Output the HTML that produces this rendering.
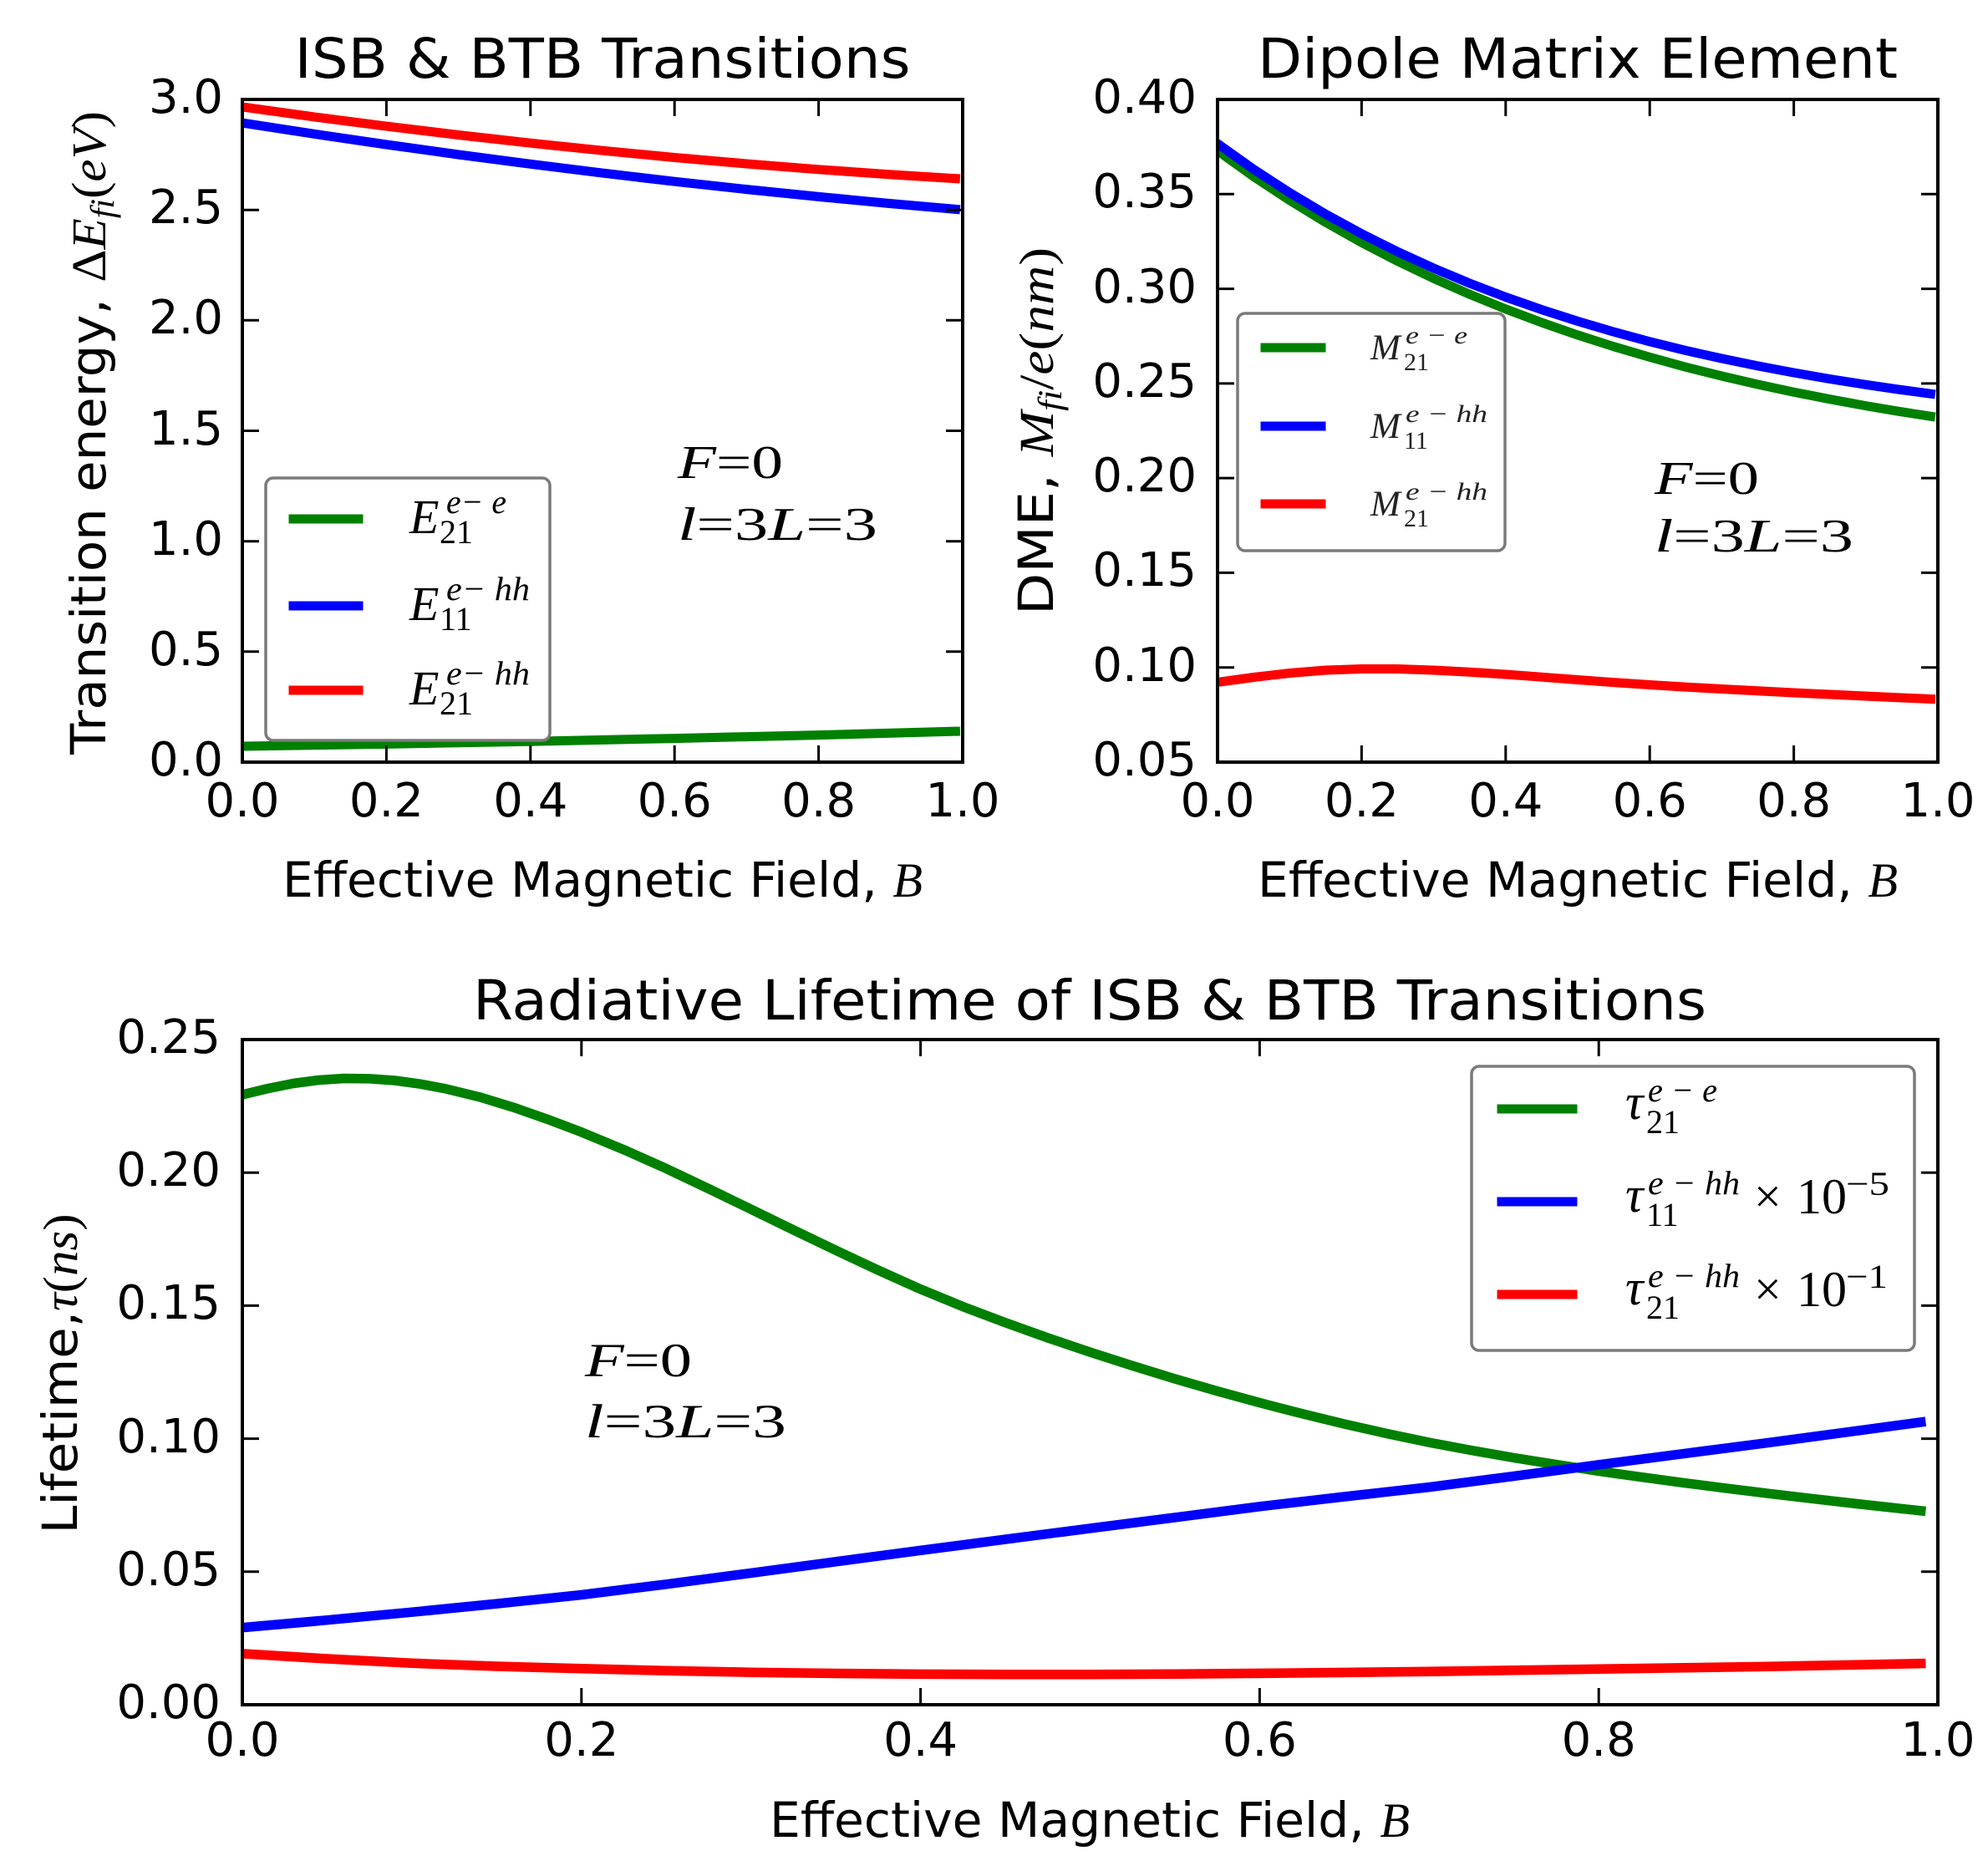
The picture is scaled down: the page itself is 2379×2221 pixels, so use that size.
<!DOCTYPE html>
<html>
<head>
<meta charset="utf-8">
<style>
  html, body { margin: 0; padding: 0; background: #fff; }
  svg { display: block; }
  .sans { font-family: "DejaVu Sans", "Liberation Sans", sans-serif; }
  .ser { font-family: "Liberation Serif", "DejaVu Serif", serif; }
  .it { font-style: italic; }
</style>
</head>
<body>
<svg width="2379" height="2221" viewBox="0 0 2379 2221" xmlns="http://www.w3.org/2000/svg">
  <rect x="0" y="0" width="2379" height="2221" fill="#fff"/>
  <defs>
    <clipPath id="c1"><rect x="290" y="119" width="862" height="793"/></clipPath>
    <clipPath id="c2"><rect x="1457" y="119" width="862" height="793"/></clipPath>
    <clipPath id="c3"><rect x="290" y="1244" width="2029" height="796"/></clipPath>
  </defs>

  <!-- ================= TOP-LEFT PLOT ================= -->
  <text class="sans" x="721" y="93" text-anchor="middle" font-size="66" textLength="737" lengthAdjust="spacingAndGlyphs">ISB &amp; BTB Transitions</text>

  <g clip-path="url(#c1)" fill="none" stroke-width="11" stroke-linecap="square" stroke-linejoin="round">
    <polyline stroke="#ff0000" points="290,128 376.2,139.9 462.4,151.1 548.6,161.5 634.8,171.2 721,180.2 807.2,188.5 893.4,196 979.6,202.8 1065.8,208.9 1143.4,213.7"/>
    <polyline stroke="#0000ff" points="290,147 376.2,160.3 462.4,173 548.6,185 634.8,196.3 721,207.1 807.2,217.2 893.4,226.6 979.6,235.4 1065.8,243.6 1143.4,250.4"/>
    <polyline stroke="#008000" points="290,893 462.4,890.4 634.8,887.2 807.2,883.6 979.6,879.6 1143.4,875.2"/>
  </g>

  <!-- legend top-left -->
  <rect x="318" y="572" width="340" height="314" rx="9" ry="9" fill="#fff" stroke="#7a7a7a" stroke-width="3.5"/>
  <g stroke-width="11" stroke-linecap="square">
    <line x1="351" y1="621" x2="429" y2="621" stroke="#008000"/>
    <line x1="351" y1="725" x2="429" y2="725" stroke="#0000ff"/>
    <line x1="351" y1="826" x2="429" y2="826" stroke="#ff0000"/>
  </g>
  <g class="ser" fill="#000">
    <text x="490" y="638" font-size="58" class="it">E</text>
    <text x="526" y="650" font-size="40">21</text>
    <text x="534" y="614" font-size="40" class="it" textLength="72" lengthAdjust="spacingAndGlyphs">e− e</text>

    <text x="490" y="742" font-size="58" class="it">E</text>
    <text x="526" y="754" font-size="40">11</text>
    <text x="534" y="718" font-size="40" class="it" textLength="100" lengthAdjust="spacingAndGlyphs">e− hh</text>

    <text x="490" y="843" font-size="58" class="it">E</text>
    <text x="526" y="855" font-size="40">21</text>
    <text x="534" y="819" font-size="40" class="it" textLength="100" lengthAdjust="spacingAndGlyphs">e− hh</text>
  </g>

  <!-- annotation top-left -->
  <g class="ser" fill="#000" font-size="56">
    <text x="811" y="572" textLength="126" lengthAdjust="spacingAndGlyphs"><tspan class="it">F</tspan>=0</text>
    <text x="811" y="646" textLength="239" lengthAdjust="spacingAndGlyphs"><tspan class="it">l</tspan>=3<tspan class="it">L</tspan>=3</text>
  </g>

  <!-- axes frame & ticks top-left -->
  <rect x="290" y="119" width="862" height="793" fill="none" stroke="#000" stroke-width="4"/>
  <path fill="none" stroke="#000" stroke-width="3" d="
    M462.4,912 v-20 M634.8,912 v-20 M807.2,912 v-20 M979.6,912 v-20
    M462.4,119 v20 M634.8,119 v20 M807.2,119 v20 M979.6,119 v20
    M290,779.8 h20 M290,647.7 h20 M290,515.5 h20 M290,383.3 h20 M290,251.2 h20
    M1152,779.8 h-20 M1152,647.7 h-20 M1152,515.5 h-20 M1152,383.3 h-20 M1152,251.2 h-20"/>
  <g class="sans" font-size="56" fill="#000" text-anchor="end">
    <text x="267" y="928">0.0</text>
    <text x="267" y="796">0.5</text>
    <text x="267" y="664">1.0</text>
    <text x="267" y="532">1.5</text>
    <text x="267" y="399">2.0</text>
    <text x="267" y="267">2.5</text>
    <text x="267" y="135">3.0</text>
  </g>
  <g class="sans" font-size="56" fill="#000" text-anchor="middle">
    <text x="290" y="977">0.0</text>
    <text x="462.4" y="977">0.2</text>
    <text x="634.8" y="977">0.4</text>
    <text x="807.2" y="977">0.6</text>
    <text x="979.6" y="977">0.8</text>
    <text x="1152" y="977">1.0</text>
  </g>
  <text x="721" y="1073" text-anchor="middle" font-size="58" textLength="766" lengthAdjust="spacingAndGlyphs"><tspan class="sans">Effective Magnetic Field, </tspan><tspan class="ser it">B</tspan></text>
  <text transform="translate(126,518) rotate(-90)" text-anchor="middle" font-size="58" textLength="770" lengthAdjust="spacingAndGlyphs"><tspan class="sans">Transition energy, </tspan><tspan class="ser">Δ</tspan><tspan class="ser it">E</tspan><tspan class="ser it" font-size="40" dy="10">fi</tspan><tspan class="ser" dy="-10">(</tspan><tspan class="ser it">eV</tspan><tspan class="ser">)</tspan></text>

  <!-- ================= TOP-RIGHT PLOT ================= -->
  <text class="sans" x="1888" y="93" text-anchor="middle" font-size="66" textLength="766" lengthAdjust="spacingAndGlyphs">Dipole Matrix Element</text>

  <g clip-path="url(#c2)" fill="none" stroke-width="11" stroke-linecap="square" stroke-linejoin="round">
    <polyline stroke="#008000" points="1457,180.4 1500.1,211.3 1543.2,239.7 1586.3,266 1629.4,290.2 1672.5,312.6 1715.6,333.2 1758.7,352.2 1801.8,369.8 1845,386 1888,400.9 1931,414.7 1974.2,427.4 2017,439.2 2060.4,450 2103.5,460 2146.6,469.2 2189.7,477.7 2232.8,485.6 2271.6,492.2 2310.4,498.2"/>
    <polyline stroke="#0000ff" points="1457,171.8 1500.1,202.5 1543.2,230.5 1586.3,256.2 1629.4,279.7 1672.5,301.2 1715.6,320.9 1758.7,339 1801.8,355.5 1845,370.6 1888,384.4 1931,397.1 1974.2,408.8 2017,419.4 2060.4,429 2103.5,437.9 2146.6,446 2189.7,453.5 2232.8,460.3 2271.6,466 2310.4,471.2"/>
    <polyline stroke="#ff0000" points="1457,816.4 1500.1,810.5 1543.2,805.5 1586.3,802 1629.4,800.5 1672.5,800.5 1715.6,802 1758.7,804.3 1801.8,807 1845,810.2 1888,813.5 1931,816.6 1974.2,819.5 2017,822.1 2060.4,824.5 2103.5,826.8 2146.6,829 2189.7,831 2232.8,833 2310.4,836.5"/>
  </g>

  <!-- legend top-right -->
  <rect x="1481" y="375" width="320" height="284" rx="9" ry="9" fill="#fff" stroke="#7a7a7a" stroke-width="3.5"/>
  <g stroke-width="11" stroke-linecap="square">
    <line x1="1514" y1="416" x2="1581" y2="416" stroke="#008000"/>
    <line x1="1514" y1="510" x2="1581" y2="510" stroke="#0000ff"/>
    <line x1="1514" y1="603" x2="1581" y2="603" stroke="#ff0000"/>
  </g>
  <g class="ser" fill="#222">
    <text x="1640" y="430" font-size="43" class="it">M</text>
    <text x="1680" y="443" font-size="30">21</text>
    <text x="1682" y="411" font-size="30" class="it" textLength="74" lengthAdjust="spacingAndGlyphs">e − e</text>

    <text x="1640" y="524" font-size="43" class="it">M</text>
    <text x="1680" y="537" font-size="30">11</text>
    <text x="1682" y="505" font-size="30" class="it" textLength="98" lengthAdjust="spacingAndGlyphs">e − hh</text>

    <text x="1640" y="617" font-size="43" class="it">M</text>
    <text x="1680" y="630" font-size="30">21</text>
    <text x="1682" y="598" font-size="30" class="it" textLength="98" lengthAdjust="spacingAndGlyphs">e − hh</text>
  </g>

  <g class="ser" fill="#000" font-size="56">
    <text x="1980" y="591" textLength="125" lengthAdjust="spacingAndGlyphs"><tspan class="it">F</tspan>=0</text>
    <text x="1980" y="660" textLength="238" lengthAdjust="spacingAndGlyphs"><tspan class="it">l</tspan>=3<tspan class="it">L</tspan>=3</text>
  </g>

  <rect x="1457" y="119" width="862" height="793" fill="none" stroke="#000" stroke-width="4"/>
  <path fill="none" stroke="#000" stroke-width="3" d="
    M1629.4,912 v-20 M1801.8,912 v-20 M1974.2,912 v-20 M2146.6,912 v-20
    M1629.4,119 v20 M1801.8,119 v20 M1974.2,119 v20 M2146.6,119 v20
    M1457,798.7 h20 M1457,685.4 h20 M1457,572.1 h20 M1457,458.9 h20 M1457,345.6 h20 M1457,232.3 h20
    M2319,798.7 h-20 M2319,685.4 h-20 M2319,572.1 h-20 M2319,458.9 h-20 M2319,345.6 h-20 M2319,232.3 h-20"/>
  <g class="sans" font-size="56" fill="#000" text-anchor="end">
    <text x="1432" y="928">0.05</text>
    <text x="1432" y="815">0.10</text>
    <text x="1432" y="701">0.15</text>
    <text x="1432" y="588">0.20</text>
    <text x="1432" y="475">0.25</text>
    <text x="1432" y="362">0.30</text>
    <text x="1432" y="248">0.35</text>
    <text x="1432" y="135">0.40</text>
  </g>
  <g class="sans" font-size="56" fill="#000" text-anchor="middle">
    <text x="1457" y="977">0.0</text>
    <text x="1629.4" y="977">0.2</text>
    <text x="1801.8" y="977">0.4</text>
    <text x="1974.2" y="977">0.6</text>
    <text x="2146.6" y="977">0.8</text>
    <text x="2319" y="977">1.0</text>
  </g>
  <text x="1888" y="1073" text-anchor="middle" font-size="58" textLength="766" lengthAdjust="spacingAndGlyphs"><tspan class="sans">Effective Magnetic Field, </tspan><tspan class="ser it">B</tspan></text>
  <text transform="translate(1260,516) rotate(-90)" text-anchor="middle" font-size="58" textLength="440" lengthAdjust="spacingAndGlyphs"><tspan class="sans">DME, </tspan><tspan class="ser it">M</tspan><tspan class="ser it" font-size="40" dy="10">fi</tspan><tspan class="ser" dy="-10">/</tspan><tspan class="ser it">e</tspan><tspan class="ser">(</tspan><tspan class="ser it">nm</tspan><tspan class="ser">)</tspan></text>

  <!-- ================= BOTTOM PLOT ================= -->
  <text class="sans" x="1304" y="1220" text-anchor="middle" font-size="66" textLength="1476" lengthAdjust="spacingAndGlyphs">Radiative Lifetime of ISB &amp; BTB Transitions</text>

  <g clip-path="url(#c3)" fill="none" stroke-width="11.5" stroke-linecap="square" stroke-linejoin="round">
    <polyline stroke="#008000" points="290,1309.9 320.4,1302.6 350.9,1296.5 381.3,1292.5 411.7,1290.5 442.2,1290.9 472.6,1293 503,1297.2 533.5,1302.9 574,1312.8 614.6,1325.2 655.2,1339.4 695.8,1354.8 746.5,1375.8 797.3,1398.4 848,1422.5 898.7,1447.1 949.4,1471.8 1000.2,1496.2 1050.9,1520 1101.6,1542.7 1152.4,1563.6 1203.1,1582.8 1253.8,1600.9 1304.5,1618.1 1355.3,1634.4 1406,1650 1456.7,1664.7 1507.4,1678.6 1558.2,1691.7 1608.9,1704.1 1659.6,1715.5 1710.3,1726.1 1761.1,1735.6 1811.8,1744.5 1862.5,1752.6 1913.2,1760.4 1964,1767.6 2014.7,1774.4 2065.4,1780.9 2116.1,1787.2 2166.9,1793.2 2217.6,1799 2258.2,1803.5 2298.7,1807.9"/>
    <polyline stroke="#0000ff" points="290,1947.7 391.5,1938.7 492.9,1929.2 594.4,1919.1 695.8,1908.5 797.3,1895.8 898.7,1882.4 1000.2,1868.8 1101.6,1855.3 1203.1,1842.1 1304.5,1828.9 1406,1815.9 1507.4,1802.8 1608.9,1791 1710.3,1779.6 1811.8,1766.4 1913.2,1752.8 2014.7,1739.6 2116.1,1726.4 2207.4,1714.2 2298.7,1701.9"/>
    <polyline stroke="#ff0000" points="290,1978.9 391.5,1985 492.9,1990.3 594.4,1994 695.8,1996.7 797.3,1999.2 898.7,2001.2 1000.2,2002.5 1101.6,2003.4 1203.1,2003.7 1304.5,2003.7 1406,2003.2 1507.4,2002.4 1608.9,2001.4 1710.3,2000.2 1811.8,1998.8 1913.2,1997.3 2014.7,1995.8 2116.1,1994.2 2207.4,1992.5 2298.7,1990.6"/>
  </g>

  <!-- legend bottom -->
  <rect x="1761" y="1276" width="530" height="340" rx="9" ry="9" fill="#fff" stroke="#7a7a7a" stroke-width="3.5"/>
  <g stroke-width="11" stroke-linecap="square">
    <line x1="1797" y1="1327" x2="1882" y2="1327" stroke="#008000"/>
    <line x1="1797" y1="1438" x2="1882" y2="1438" stroke="#0000ff"/>
    <line x1="1797" y1="1549" x2="1882" y2="1549" stroke="#ff0000"/>
  </g>
  <g class="ser" fill="#000">
    <text x="1945" y="1339" font-size="60" class="it">τ</text>
    <text x="1970" y="1356" font-size="40">21</text>
    <text x="1972" y="1318" font-size="40" class="it" textLength="83" lengthAdjust="spacingAndGlyphs">e − e</text>

    <text x="1945" y="1450" font-size="60" class="it">τ</text>
    <text x="1970" y="1467" font-size="40">11</text>
    <text x="1972" y="1429" font-size="40" class="it" textLength="110" lengthAdjust="spacingAndGlyphs">e − hh</text>
    <text x="2099" y="1451" font-size="58">×</text>
    <text x="2150" y="1452" font-size="60">10</text>
    <text x="2209" y="1430" font-size="40" textLength="52" lengthAdjust="spacingAndGlyphs">−5</text>

    <text x="1945" y="1561" font-size="60" class="it">τ</text>
    <text x="1970" y="1578" font-size="40">21</text>
    <text x="1972" y="1540" font-size="40" class="it" textLength="110" lengthAdjust="spacingAndGlyphs">e − hh</text>
    <text x="2099" y="1562" font-size="58">×</text>
    <text x="2150" y="1563" font-size="60">10</text>
    <text x="2209" y="1541" font-size="40" textLength="50" lengthAdjust="spacingAndGlyphs">−1</text>
  </g>

  <g class="ser" fill="#000" font-size="57">
    <text x="700" y="1647" textLength="128" lengthAdjust="spacingAndGlyphs"><tspan class="it">F</tspan>=0</text>
    <text x="700" y="1720" textLength="241" lengthAdjust="spacingAndGlyphs"><tspan class="it">l</tspan>=3<tspan class="it">L</tspan>=3</text>
  </g>

  <rect x="290" y="1244" width="2029" height="796" fill="none" stroke="#000" stroke-width="4"/>
  <path fill="none" stroke="#000" stroke-width="3" d="
    M695.8,2040 v-20 M1101.6,2040 v-20 M1507.4,2040 v-20 M1913.2,2040 v-20
    M695.8,1244 v20 M1101.6,1244 v20 M1507.4,1244 v20 M1913.2,1244 v20
    M290,1880.8 h20 M290,1721.6 h20 M290,1562.4 h20 M290,1403.2 h20
    M2319,1880.8 h-20 M2319,1721.6 h-20 M2319,1562.4 h-20 M2319,1403.2 h-20"/>
  <g class="sans" font-size="56" fill="#000" text-anchor="end">
    <text x="264" y="2056">0.00</text>
    <text x="264" y="1897">0.05</text>
    <text x="264" y="1738">0.10</text>
    <text x="264" y="1578">0.15</text>
    <text x="264" y="1419">0.20</text>
    <text x="264" y="1260">0.25</text>
  </g>
  <g class="sans" font-size="56" fill="#000" text-anchor="middle">
    <text x="290" y="2101">0.0</text>
    <text x="695.8" y="2101">0.2</text>
    <text x="1101.6" y="2101">0.4</text>
    <text x="1507.4" y="2101">0.6</text>
    <text x="1913.2" y="2101">0.8</text>
    <text x="2319" y="2101">1.0</text>
  </g>
  <text x="1304" y="2198" text-anchor="middle" font-size="58" textLength="766" lengthAdjust="spacingAndGlyphs"><tspan class="sans">Effective Magnetic Field, </tspan><tspan class="ser it">B</tspan></text>
  <text transform="translate(92,1644) rotate(-90)" text-anchor="middle" font-size="58" textLength="383" lengthAdjust="spacingAndGlyphs"><tspan class="sans">Lifetime,</tspan><tspan class="ser it">τ</tspan><tspan class="ser">(</tspan><tspan class="ser it">ns</tspan><tspan class="ser">)</tspan></text>
</svg>
</body>
</html>
